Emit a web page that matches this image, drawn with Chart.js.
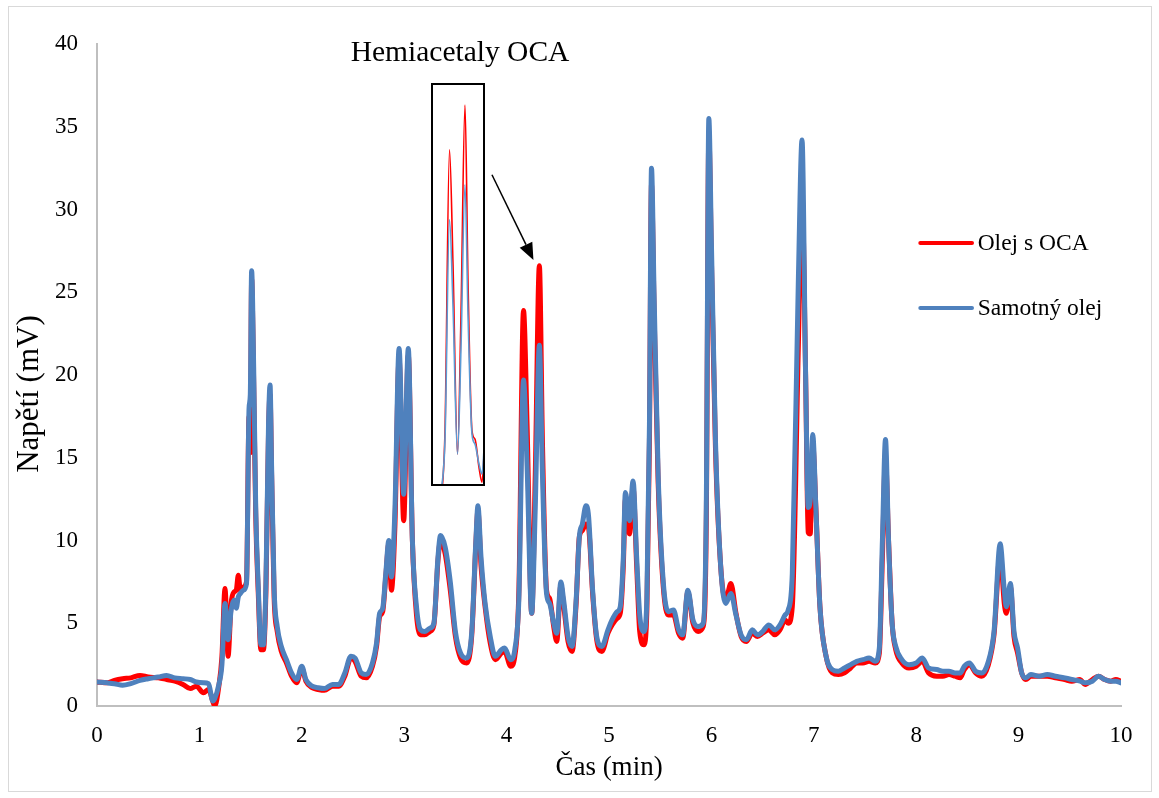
<!DOCTYPE html>
<html>
<head>
<meta charset="utf-8">
<title>Chromatogram</title>
<script src="https://cdn.jsdelivr.net/npm/chart.js@4.4.1/dist/chart.umd.min.js"></script>
<style>
  html, body { margin: 0; padding: 0; background: #fff; }
  #wrap { position: relative; width: 1159px; height: 798px; overflow: hidden; }
  #main { position: absolute; left: 0; top: 0; }
  #frame { position: absolute; left: 8px; top: 6px; width: 1144px; height: 786px;
           border: 1px solid #d9d9d9; box-sizing: border-box; pointer-events: none; }
  #insetHolder { position: absolute; }
</style>
</head>
<body>
<div id="wrap">
  <canvas id="main" width="1159" height="798"></canvas>
  <div id="frame"></div>
  <div id="insetHolder"><canvas id="inset"></canvas></div>
</div>
<script>
// Retention time (min)
const times = [
  0.00, 0.10, 0.17, 0.25, 0.33, 0.42, 0.50, 0.60, 0.68, 0.76, 0.84, 0.91, 0.97, 1.04, 1.09,
  1.13, 1.15, 1.19, 1.22, 1.25, 1.28, 1.31, 1.34, 1.36, 1.38, 1.40, 1.43, 1.46, 1.485, 1.497,
  1.51, 1.53, 1.55, 1.575, 1.60, 1.625, 1.65, 1.675, 1.69, 1.705, 1.73, 1.76, 1.80, 1.85, 1.90, 1.95,
  2.00, 2.04, 2.10, 2.16, 2.22, 2.30, 2.36, 2.42, 2.48, 2.52, 2.58, 2.63, 2.69, 2.73, 2.76,
  2.79, 2.82, 2.85, 2.875, 2.91, 2.95, 2.995, 3.04, 3.08, 3.12, 3.16, 3.20, 3.25, 3.29, 3.33,
  3.355, 3.40, 3.45, 3.50, 3.55, 3.61, 3.66, 3.70, 3.72, 3.75, 3.79, 3.84, 3.89, 3.95, 3.98,
  4.04, 4.08, 4.12, 4.165, 4.20, 4.245, 4.28, 4.32, 4.35, 4.39, 4.42, 4.46, 4.49, 4.53, 4.555,
  4.60, 4.64, 4.68, 4.71, 4.74, 4.775, 4.80, 4.84, 4.88, 4.93, 4.99, 5.03, 5.08, 5.11, 5.14,
  5.16, 5.20, 5.235, 5.27, 5.30, 5.34, 5.37, 5.395, 5.415, 5.44, 5.48, 5.53, 5.58, 5.63, 5.68,
  5.72, 5.77, 5.82, 5.87, 5.92, 5.95, 5.975, 6.00, 6.04, 6.09, 6.14, 6.19, 6.24, 6.29, 6.34,
  6.40, 6.45, 6.50, 6.56, 6.62, 6.67, 6.72, 6.75, 6.79, 6.85, 6.885, 6.92, 6.945, 6.965, 6.99,
  7.02, 7.06, 7.12, 7.18, 7.24, 7.30, 7.36, 7.42, 7.48, 7.54, 7.60, 7.64, 7.67, 7.70, 7.73,
  7.765, 7.80, 7.86, 7.93, 8.00, 8.06, 8.12, 8.20, 8.26, 8.32, 8.38, 8.43, 8.47, 8.52, 8.58,
  8.64, 8.70, 8.76, 8.82, 8.86, 8.88, 8.92, 8.955, 8.99, 9.03, 9.07, 9.12, 9.20, 9.28, 9.36,
  9.45, 9.52, 9.60, 9.65, 9.72, 9.78, 9.84, 9.90, 9.95, 10.00
];

// Detector signal (mV), oil with OCA
const olejSOca = [
  1.45, 1.40, 1.55, 1.65, 1.70, 1.85, 1.75, 1.70, 1.60, 1.50, 1.30, 1.05, 1.20, 0.80, 1.00,
  0.30, 0.00, 1.20, 3.00, 7.10, 3.00, 6.20, 6.90, 7.00, 7.90, 7.00, 7.20, 7.50, 17.50, 15.30,
  25.80, 19.50, 11.50, 6.80, 3.40, 3.40, 7.00, 16.50, 18.80, 14.00, 6.50, 4.50, 3.30, 2.60, 1.80, 1.40,
  2.30, 1.50, 1.10, 1.00, 0.95, 1.20, 1.20, 1.80, 2.90, 2.70, 1.80, 1.70, 2.40, 3.60, 5.40,
  5.70, 7.80, 9.80, 7.00, 11.00, 21.00, 11.20, 21.20, 10.00, 5.50, 4.30, 4.30, 4.50, 4.90, 8.80,
  10.00, 9.20, 7.00, 4.20, 2.90, 2.60, 4.30, 9.80, 11.80, 8.50, 6.00, 3.80, 2.80, 3.20, 3.30,
  2.40, 3.00, 7.00, 23.90, 17.00, 5.60, 14.00, 26.60, 16.00, 7.00, 6.50, 4.80, 3.90, 7.30, 6.20,
  3.90, 3.30, 6.30, 10.20, 10.60, 11.00, 10.80, 6.80, 4.00, 3.30, 4.40, 4.90, 5.30, 5.60, 8.50,
  12.50, 10.40, 13.20, 8.50, 4.50, 3.70, 5.80, 16.00, 31.50, 24.00, 13.50, 7.20, 5.50, 5.50, 4.40,
  4.10, 6.90, 5.00, 4.50, 4.80, 11.00, 34.50, 27.00, 15.50, 8.50, 6.40, 7.40, 5.60, 4.20, 3.90,
  4.40, 4.20, 4.40, 4.60, 4.30, 4.60, 5.20, 5.00, 6.00, 22.00, 31.00, 20.00, 10.50, 10.40, 15.80,
  12.00, 6.00, 3.00, 2.00, 1.90, 2.00, 2.30, 2.60, 2.60, 2.70, 2.60, 3.20, 9.00, 15.00, 10.00,
  5.00, 3.40, 2.60, 2.30, 2.40, 2.70, 2.00, 1.80, 1.80, 1.90, 1.80, 1.70, 2.20, 2.50, 2.00,
  1.80, 2.40, 4.30, 9.20, 6.20, 5.60, 7.20, 4.20, 3.20, 2.00, 1.60, 1.80, 1.80, 1.80, 1.70,
  1.60, 1.50, 1.60, 1.30, 1.60, 1.80, 1.60, 1.50, 1.60, 1.50
];

// Detector signal (mV), oil alone
const samotnyOlej = [
  1.45, 1.40, 1.35, 1.25, 1.35, 1.55, 1.65, 1.75, 1.85, 1.70, 1.65, 1.60, 1.45, 1.40, 1.35,
  0.30, 0.45, 1.30, 2.50, 6.20, 4.00, 5.80, 6.40, 5.90, 6.60, 6.80, 7.00, 7.40, 18.00, 18.80,
  26.30, 20.50, 12.00, 7.20, 3.70, 3.70, 7.50, 17.00, 19.40, 14.50, 7.00, 4.80, 3.60, 2.80, 2.00, 1.60,
  2.40, 1.60, 1.20, 1.10, 1.05, 1.30, 1.30, 2.00, 3.00, 2.90, 2.00, 1.90, 2.60, 3.80, 5.60,
  5.90, 8.00, 10.00, 7.80, 12.00, 21.60, 12.80, 21.60, 10.00, 6.00, 4.60, 4.50, 4.70, 5.00, 9.00,
  10.30, 9.60, 7.50, 4.50, 3.20, 2.90, 4.50, 10.00, 12.10, 9.00, 6.20, 4.20, 3.00, 3.40, 3.50,
  2.80, 3.40, 6.50, 19.70, 14.50, 5.60, 12.00, 21.80, 14.00, 6.80, 6.20, 5.00, 4.40, 7.50, 6.50,
  4.20, 3.60, 6.50, 10.20, 11.00, 12.10, 11.50, 7.00, 4.20, 3.60, 4.60, 5.20, 5.70, 6.00, 9.00,
  12.90, 11.20, 13.60, 9.00, 5.50, 4.50, 6.50, 17.00, 32.50, 25.00, 14.00, 7.50, 5.70, 5.80, 4.60,
  4.30, 7.00, 5.20, 4.80, 5.00, 12.00, 35.50, 28.00, 16.00, 8.50, 6.20, 6.80, 5.50, 4.30, 4.00,
  4.60, 4.30, 4.50, 4.90, 4.60, 4.90, 5.50, 5.80, 8.00, 26.00, 34.20, 20.00, 12.00, 12.40, 16.40,
  12.00, 6.00, 3.00, 2.20, 2.10, 2.30, 2.50, 2.70, 2.80, 2.90, 2.70, 3.50, 10.00, 16.10, 10.00,
  5.00, 3.60, 2.80, 2.50, 2.60, 2.90, 2.30, 2.20, 2.10, 2.10, 2.00, 2.00, 2.40, 2.60, 2.10,
  2.00, 2.60, 4.50, 9.80, 7.00, 6.00, 7.40, 4.50, 3.50, 2.00, 1.70, 1.90, 1.80, 1.90, 1.80,
  1.70, 1.60, 1.50, 1.40, 1.50, 1.80, 1.60, 1.50, 1.50, 1.40
];

const seriesNames = ['Olej s OCA', 'Samotný olej'];
const xTicks = [0, 1, 2, 3, 4, 5, 6, 7, 8, 9, 10];
const yTicks = [0, 5, 10, 15, 20, 25, 30, 35, 40];
const xTitle = 'Čas (min)';
const yTitle = 'Napětí (mV)';
const calloutText = 'Hemiacetaly OCA';
const insetWindow = { tMin: 4.0, tMax: 4.5, vMin: 3.8, vMax: 27.8 };

const RED = '#ff0000';
const BLUE = '#4f81bd';
const INSET_BLUE = '#5b9bd5';
const FONT = "'Liberation Serif', 'Times New Roman', serif";

const toPoints = vals => vals.map((v, i) => ({ x: times[i], y: v }));

// Placement of the callout, arrow, legend and vertical axis title in axis units
const layoutUnits = {
  title: { t: 3.545, v: 39.45 },
  box: { t0: 3.27, t1: 3.78, v0: 37.6, v1: 13.35 },
  arrow: { t0: 3.857, v0: 32.1, t1: 4.262, v1: 26.95 },
  legend: { t0: 8.04, t1: 8.545, tText: 8.60, rows: [27.98, 24.05] },
  yTitle: { px: 30, v: 18.85 }
};

const overlay = {
  id: 'overlay',
  afterDraw(chart) {
    const { ctx, scales: { x, y } } = chart;
    const L = layoutUnits;
    ctx.save();

    // vertical axis title
    ctx.save();
    ctx.translate(L.yTitle.px, y.getPixelForValue(L.yTitle.v));
    ctx.rotate(-Math.PI / 2);
    ctx.fillStyle = '#000';
    ctx.font = `31px ${FONT}`;
    ctx.textAlign = 'center';
    ctx.textBaseline = 'middle';
    ctx.fillText(yTitle, 0, 0);
    ctx.restore();

    // callout title
    ctx.fillStyle = '#000';
    ctx.font = `29.5px ${FONT}`;
    ctx.textAlign = 'center';
    ctx.textBaseline = 'middle';
    ctx.fillText(calloutText, x.getPixelForValue(L.title.t), y.getPixelForValue(L.title.v));

    // inset frame
    const bx0 = Math.round(x.getPixelForValue(L.box.t0));
    const bx1 = Math.round(x.getPixelForValue(L.box.t1));
    const by0 = Math.round(y.getPixelForValue(L.box.v0));
    const by1 = Math.round(y.getPixelForValue(L.box.v1));
    ctx.fillStyle = '#fff';
    ctx.fillRect(bx0, by0, bx1 - bx0, by1 - by0);
    ctx.strokeStyle = '#000';
    ctx.lineWidth = 2;
    ctx.strokeRect(bx0, by0, bx1 - bx0, by1 - by0);

    // arrow
    const ax0 = x.getPixelForValue(L.arrow.t0), ay0 = y.getPixelForValue(L.arrow.v0);
    const ax1 = x.getPixelForValue(L.arrow.t1), ay1 = y.getPixelForValue(L.arrow.v1);
    const ang = Math.atan2(ay1 - ay0, ax1 - ax0);
    const headLen = 17, headHalf = 7;
    const bxh = ax1 - headLen * Math.cos(ang), byh = ay1 - headLen * Math.sin(ang);
    ctx.lineWidth = 1.5;
    ctx.beginPath();
    ctx.moveTo(ax0, ay0);
    ctx.lineTo(bxh, byh);
    ctx.stroke();
    ctx.fillStyle = '#000';
    ctx.beginPath();
    ctx.moveTo(ax1, ay1);
    ctx.lineTo(bxh + headHalf * Math.sin(ang), byh - headHalf * Math.cos(ang));
    ctx.lineTo(bxh - headHalf * Math.sin(ang), byh + headHalf * Math.cos(ang));
    ctx.closePath();
    ctx.fill();

    // legend
    const colors = [RED, BLUE];
    ctx.font = `23.5px ${FONT}`;
    ctx.textAlign = 'left';
    ctx.textBaseline = 'middle';
    L.legend.rows.forEach((v, i) => {
      const py = y.getPixelForValue(v);
      ctx.strokeStyle = colors[i];
      ctx.lineWidth = 4;
      ctx.lineCap = 'round';
      ctx.beginPath();
      ctx.moveTo(x.getPixelForValue(L.legend.t0), py);
      ctx.lineTo(x.getPixelForValue(L.legend.t1), py);
      ctx.stroke();
      ctx.fillStyle = '#000';
      ctx.fillText(seriesNames[i], x.getPixelForValue(L.legend.tText), py + 1);
    });
    ctx.restore();
  }
};

Chart.defaults.font.family = FONT;
Chart.defaults.color = '#000';

const main = new Chart(document.getElementById('main'), {
  type: 'line',
  data: {
    datasets: [
      { label: seriesNames[0], data: toPoints(olejSOca), borderColor: RED, borderWidth: 5, order: 2 },
      { label: seriesNames[1], data: toPoints(samotnyOlej), borderColor: BLUE, borderWidth: 5, order: 1 }
    ]
  },
  options: {
    responsive: false,
    animation: false,
    devicePixelRatio: 1,
    layout: { padding: { left: 0, right: 38, top: 44, bottom: 0 } },
    elements: {
      point: { radius: 0 },
      line: { cubicInterpolationMode: 'monotone', borderJoinStyle: 'round', borderCapStyle: 'round' }
    },
    plugins: { legend: { display: false }, tooltip: { enabled: false } },
    scales: {
      x: {
        type: 'linear', min: 0, max: 10,
        afterBuildTicks: s => { s.ticks = xTicks.map(v => ({ value: v })); },
        afterFit: s => { s.height = 92; },
        grid: { display: false, drawTicks: false },
        border: { display: true, color: '#bfbfbf', width: 2 },
        ticks: { font: { size: 23 }, padding: 16, color: '#000', maxRotation: 0 },
        title: { display: true, text: xTitle, font: { size: 27 }, padding: { top: 0, bottom: 14 }, color: '#000' }
      },
      y: {
        type: 'linear', min: 0, max: 40,
        afterBuildTicks: s => { s.ticks = yTicks.map(v => ({ value: v })); },
        afterFit: s => { s.width = 97; },
        grid: { display: false, drawTicks: false },
        border: { display: true, color: '#bfbfbf', width: 2 },
        ticks: { font: { size: 23 }, padding: 19, color: '#000' },
        title: { display: false }
      }
    }
  },
  plugins: [overlay]
});

// Enlarged view of the hemiacetal peaks, placed inside the callout frame
const xs = main.scales.x, ys = main.scales.y, B = layoutUnits.box;
const ix0 = Math.round(xs.getPixelForValue(B.t0)) + 1;
const ix1 = Math.round(xs.getPixelForValue(B.t1)) - 1;
const iy0 = Math.round(ys.getPixelForValue(B.v0)) + 1;
const iy1 = Math.round(ys.getPixelForValue(B.v1)) - 1;
const holder = document.getElementById('insetHolder');
holder.style.left = ix0 + 'px';
holder.style.top = iy0 + 'px';
const insetCanvas = document.getElementById('inset');
insetCanvas.width = ix1 - ix0;
insetCanvas.height = iy1 - iy0;

new Chart(insetCanvas, {
  type: 'line',
  data: {
    datasets: [
      { data: toPoints(olejSOca), borderColor: RED, borderWidth: 1.6, order: 2 },
      { data: toPoints(samotnyOlej), borderColor: INSET_BLUE, borderWidth: 1.6, order: 1 }
    ]
  },
  options: {
    responsive: false,
    animation: false,
    devicePixelRatio: 1,
    layout: { padding: 0 },
    elements: { point: { radius: 0 }, line: { cubicInterpolationMode: 'monotone' } },
    plugins: { legend: { display: false }, tooltip: { enabled: false } },
    scales: {
      x: { type: 'linear', display: false, min: insetWindow.tMin, max: insetWindow.tMax },
      y: { type: 'linear', display: false, min: insetWindow.vMin, max: insetWindow.vMax }
    }
  }
});
</script>
</body>
</html>
